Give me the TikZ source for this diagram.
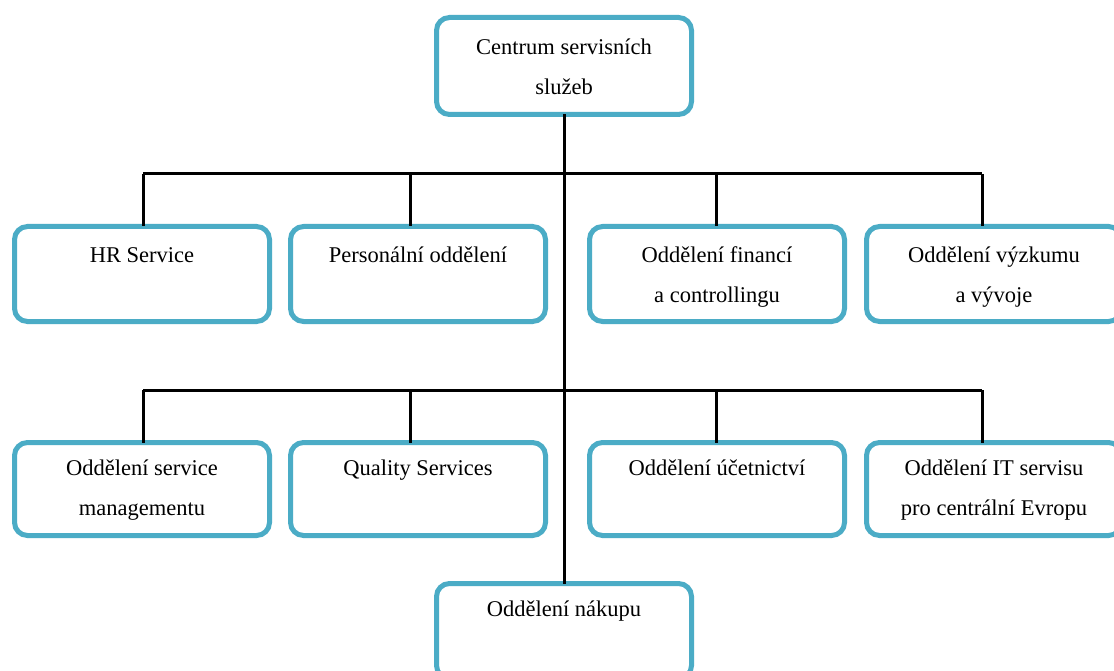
\documentclass[tikz,border=0pt]{standalone}
\usepackage{fontspec}
\setmainfont{Liberation Serif}
\definecolor{unitframe}{RGB}{75,172,198}
% box contents: total height, first-baseline offset, lines of text
\newcommand\unittext[3]{\parbox[t][#1pt][t]{255pt}{\centering\fontsize{22.5}{40}\selectfont\rule{0pt}{#2pt}#3}}
\tikzset{
  unit/.style={draw=unitframe, line width=5pt, rounded corners=13pt,
    rectangle, inner sep=0pt, outer sep=0pt, fill=white},
  link/.style={draw=black, line width=3pt},
}
\begin{document}
\begin{tikzpicture}[x=1pt,y=-1pt]
\useasboundingbox (0,0) rectangle (1114,671);
\clip (0,0) rectangle (1114,671);
\fill[white] (0,0) rectangle (1114,671);

% bus junctions
\coordinate (a1) at (143,174);
\coordinate (a2) at (410,174);
\coordinate (a3) at (716,174);
\coordinate (a4) at (982,174);
\coordinate (b1) at (143,390);
\coordinate (b2) at (410,390);
\coordinate (b3) at (716,390);
\coordinate (b4) at (982,390);

% units
\node[unit] (csc) at (564,66) {\unittext{97}{37}{Centrum servisních\\služeb}};

\node[unit] (hr)  at (142,274) {\unittext{95}{36}{HR Service}};
\node[unit] (per) at (418,274) {\unittext{95}{36}{Personální oddělení}};
\node[unit] (fin) at (717,274) {\unittext{95}{36}{Oddělení financí\\a controllingu}};
\node[unit] (vyz) at (994,274) {\unittext{95}{36}{Oddělení výzkumu\\a vývoje}};

\node[unit] (sm)  at (142,489) {\unittext{93}{33}{Oddělení service\\managementu}};
\node[unit] (qs)  at (418,489) {\unittext{93}{33}{Quality Services}};
\node[unit] (uce) at (717,489) {\unittext{93}{33}{Oddělení účetnictví}};
\node[unit] (it)  at (994,489) {\unittext{93}{33}{Oddělení IT servisu\\pro centrální Evropu}};

\node[unit] (nak) at (564,631) {\unittext{95}{33}{Oddělení nákupu}};

% connectors
\draw[link] (csc.south) -- (nak.north);
\draw[link] (a1) -- (a4);
\draw[link] (b1) -- (b4);
\draw[link] (a1) -- (a1 |- hr.north);
\draw[link] (a2) -- (a2 |- per.north);
\draw[link] (a3) -- (a3 |- fin.north);
\draw[link] (a4) -- (a4 |- vyz.north);
\draw[link] (b1) -- (b1 |- sm.north);
\draw[link] (b2) -- (b2 |- qs.north);
\draw[link] (b3) -- (b3 |- uce.north);
\draw[link] (b4) -- (b4 |- it.north);
\end{tikzpicture}
\end{document}
